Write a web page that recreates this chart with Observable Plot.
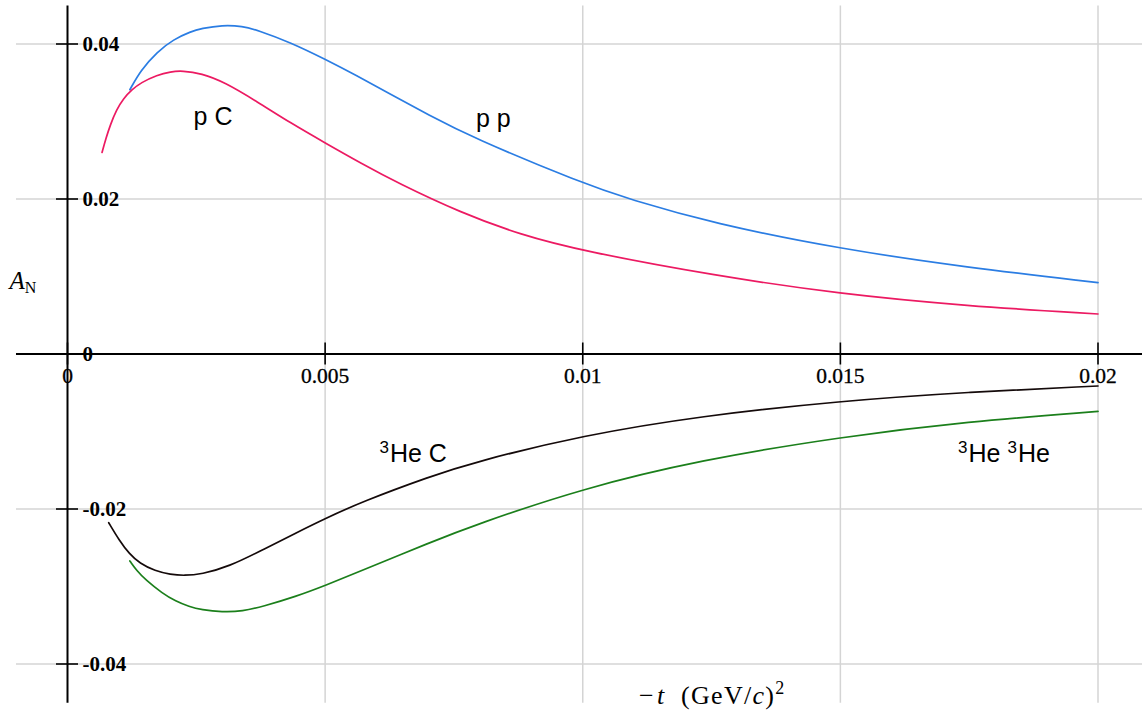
<!DOCTYPE html>
<html><head><meta charset="utf-8">
<script src="https://cdn.jsdelivr.net/npm/d3@7"></script>
<script src="https://cdn.jsdelivr.net/npm/@observablehq/plot@0.6"></script>
<style>body{margin:0;background:#fff} svg{display:block}</style>
</head><body><div id="chart"></div>
<script>
// ---- tick values / labels ----
const xTicks = [0, 0.005, 0.01, 0.015, 0.02];
const xTickLabels = ["0", "0.005", "0.01", "0.015", "0.02"];
const yTicks = [0.04, 0.02, 0, -0.02, -0.04];
const yTickLabels = ["0.04", "0.02", "0", "-0.02", "-0.04"];
const xGrid = [0.005, 0.01, 0.015, 0.02];
const yGrid = [0.04, 0.02, -0.02, -0.04];
// extents of grid / axis lines (data units)
const gridXMin = -0.00099, gridXMax = 0.0209;
const gridYMin = -0.04505, gridYMax = 0.0449;

// ---- series (-t in (GeV/c)^2, A_N) ----
const ppT = [0.00121, 0.00142, 0.00174, 0.00206, 0.00239, 0.0026, 0.0030, 0.0034, 0.00368, 0.00433, 0.00501, 0.0056, 0.00627, 0.0070, 0.00783, 0.0100, 0.01089, 0.01253, 0.0150, 0.01744, 0.0200];
const ppA = [0.0341, 0.0366, 0.0390, 0.0406, 0.0416, 0.0420, 0.04245, 0.0423, 0.0418, 0.0402, 0.0380, 0.03596, 0.0335, 0.03087, 0.0280, 0.0220, 0.0200, 0.01686, 0.01355, 0.01119, 0.0092];

const pcT = [0.00067, 0.00075, 0.00083, 0.00095, 0.00109, 0.00125, 0.00142, 0.00174, 0.0020, 0.00223, 0.0026, 0.00304, 0.00368, 0.00433, 0.00501, 0.0057, 0.0064, 0.00763, 0.0088, 0.0100, 0.01253, 0.0150, 0.01744, 0.0200];
const pcA = [0.0260, 0.0279, 0.02955, 0.0315, 0.0330, 0.0341, 0.0350, 0.0360, 0.03643, 0.03656, 0.0362, 0.0351, 0.03256, 0.0298, 0.0272, 0.0246, 0.0221, 0.01824, 0.01537, 0.01329, 0.01015, 0.00774, 0.0062, 0.00516];

const hecT = [0.0008, 0.0010, 0.0012, 0.0014, 0.0017, 0.0020, 0.00226, 0.0026, 0.00313, 0.00378, 0.00443, 0.00501, 0.00572, 0.00702, 0.00792, 0.0100, 0.01228, 0.0150, 0.01748, 0.0200];
const hecA = [-0.02177, -0.0240, -0.0258, -0.0270, -0.0280, -0.02845, -0.0286, -0.02842, -0.02744, -0.0253, -0.0231, -0.0212, -0.01905, -0.01583, -0.0139, -0.0105, -0.0080, -0.00606, -0.0049, -0.00413];

const hehT = [0.00121, 0.00135, 0.00151, 0.00184, 0.0021, 0.00236, 0.0026, 0.0030, 0.0034, 0.00378, 0.00443, 0.00501, 0.00572, 0.00702, 0.00792, 0.0100, 0.01228, 0.0150, 0.01748, 0.0200];
const hehA = [-0.0267, -0.0280, -0.0291, -0.03088, -0.0319, -0.0326, -0.0330, -0.0333, -0.0332, -0.0326, -0.0313, -0.02985, -0.02793, -0.02436, -0.02202, -0.01734, -0.01369, -0.0107, -0.00872, -0.00741];

const seriesNames = ["pp", "pC", "3HeC", "3He3He"];
const seriesColors = ["#2b7de3", "#ec1a62", "#140a0a", "#1b7f1b"];

// ---- curve labels ----
const labelText = ["p C", "p p", "³He C", "³He ³He"];
const labelT = [0.002825, 0.008264, 0.006709, 0.018175];
const labelA = [0.0306, 0.0303, -0.0129, -0.0129];

// axis titles
const yTitle = "A_N";
const yTitlePos = {t: -0.001126, a: 0.00942};
const xTitle = "-t (GeV/c)^2";
const xTitlePos = {t: 0.01109, a: -0.04405};

// ---- build tables ----
const zip = (T, A, name) => T.map((t, i) => ({t, a: A[i], name}));
const seriesData = [zip(ppT, ppA, "pp"), zip(pcT, pcA, "pC"), zip(hecT, hecA, "3HeC"), zip(hehT, hehA, "3He3He")];
const xTickData = xTicks.map((t, i) => ({t, label: xTickLabels[i]}));
const yTickData = yTicks.map((a, i) => ({a, label: yTickLabels[i]}));
const labelData = labelText.map((s, i) => ({s, t: labelT[i], a: labelA[i]}));

const serif = "'Liberation Serif', 'Times New Roman', serif";
const sans = "'Liberation Sans', Arial, Helvetica, sans-serif";

const chart = Plot.plot({
  width: 1142, height: 716,
  marginLeft: 67, marginRight: 44.5, marginTop: 43.5, marginBottom: 52.5,
  x: {domain: [0, 0.02], axis: null},
  y: {domain: [-0.04, 0.04], axis: null},
  style: {background: "white", overflow: "visible"},
  marks: [
    // grid
    Plot.ruleX(xGrid, {x: d => d, y1: () => gridYMin, y2: () => gridYMax, stroke: "#d4d4d4", strokeWidth: 1.5}),
    Plot.ruleY(yGrid, {y: d => d, x1: () => gridXMin, x2: () => gridXMax, stroke: "#d4d4d4", strokeWidth: 1.5}),
    // axis lines
    Plot.ruleX([0], {x: d => d, y1: () => gridYMin, y2: () => gridYMax, stroke: "black", strokeWidth: 2}),
    Plot.ruleY([0], {y: d => d, x1: () => gridXMin, x2: () => gridXMax, stroke: "black", strokeWidth: 2}),
    // tick marks crossing the axes
    Plot.ruleY(yTickData, {y: "a", x1: () => 0, x2: () => 0, insetLeft: -11, insetRight: -11, stroke: "black", strokeWidth: 1.6}),
    Plot.ruleX(xTickData, {x: "t", y1: () => 0, y2: () => 0, insetTop: -11, insetBottom: -11, stroke: "black", strokeWidth: 1.6}),
    // tick labels
    Plot.text(yTickData, {x: () => 0, y: "a", text: "label", dx: 15, textAnchor: "start", fontFamily: serif, fontSize: 21, fontWeight: "bold", fill: "black"}),
    Plot.text(xTickData, {x: "t", y: () => 0, text: "label", dy: 22, textAnchor: "middle", fontFamily: serif, fontSize: 21.5, fill: "black", stroke: "black", strokeWidth: 0.3}),
    // curves
    ...seriesData.map((d, i) => Plot.line(d, {x: "t", y: "a", stroke: seriesColors[i], strokeWidth: 1.7, curve: "basis"})),
    // curve labels
    Plot.text(labelData, {x: "t", y: "a", text: "s", textAnchor: "middle", fontFamily: sans, fontSize: 25, fill: "black"}),
    // axis titles
    Plot.text([yTitlePos], {x: "t", y: "a", text: () => yTitle, textAnchor: "start", fontFamily: serif, fontSize: 25, fill: "black"}),
    Plot.text([xTitlePos], {x: "t", y: "a", text: () => xTitle, textAnchor: "start", fontFamily: serif, fontSize: 26, fill: "black"})
  ]
});
document.getElementById("chart").appendChild(chart);

// ---- rich text post-processing (italics, sub/superscripts) ----
const NS = "http://www.w3.org/2000/svg";
function rich(key, parts, extra) {
  chart.querySelectorAll("text").forEach(el => {
    if (el.textContent !== key) return;
    while (el.firstChild) el.removeChild(el.firstChild);
    if (extra) Object.entries(extra).forEach(([k, v]) => el.style.setProperty(k, v));
    parts.forEach(p => {
      const ts = document.createElementNS(NS, "tspan");
      ts.textContent = p.t;
      if (p.italic) ts.setAttribute("font-style", "italic");
      if (p.size) ts.setAttribute("font-size", p.size);
      if (p.dy) ts.setAttribute("dy", p.dy);
      if (p.dx) ts.setAttribute("dx", p.dx);
      el.appendChild(ts);
    });
  });
}
rich(yTitle, [{t: "A", italic: true}, {t: "N", size: 16, dy: 4}]);
rich(xTitle, [{t: "\u2212"}, {t: "t", italic: true, dx: 2}, {t: "\u00a0\u00a0(GeV/"}, {t: "c", italic: true}, {t: ")"}, {t: "2", size: 18, dy: -10}], {"letter-spacing": "1.3px"});
rich("³He C", [{t: "3", size: 17, dy: -9}, {t: "He\u00a0C", dy: 9, dx: 1}]);
rich("³He ³He", [{t: "3", size: 17, dy: -9}, {t: "He\u00a0", dy: 9, dx: 1}, {t: "3", size: 17, dy: -9}, {t: "He", dy: 9, dx: 1}]);
</script>
</body></html>
